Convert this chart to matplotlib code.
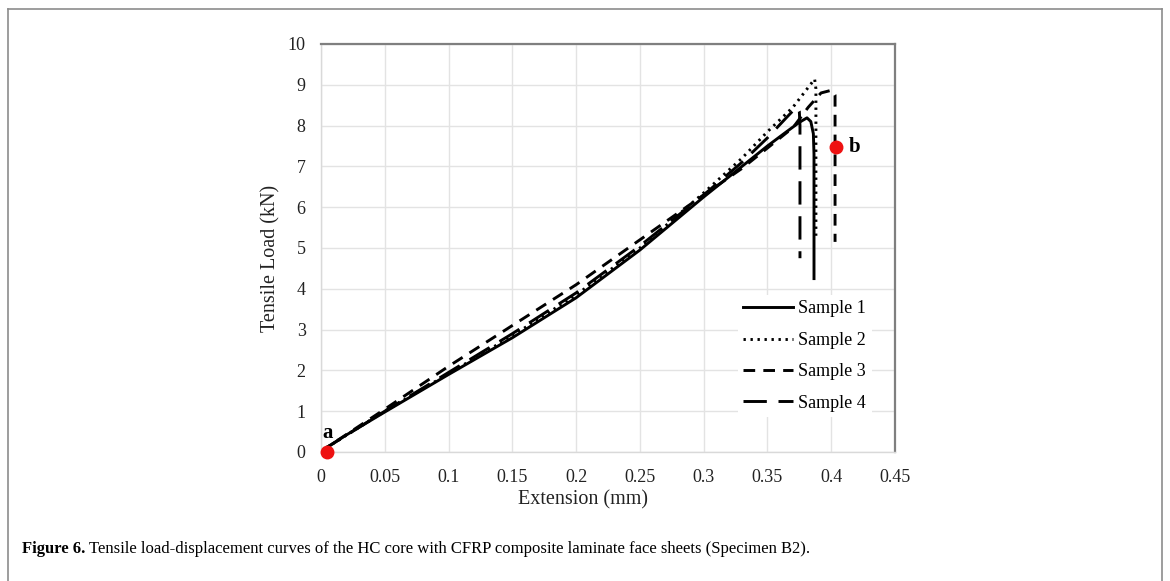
import matplotlib
matplotlib.use("Agg")
import matplotlib.pyplot as plt
from matplotlib.lines import Line2D

# ---------------- data ----------------
x1 = [0.0, 0.005, 0.02, 0.05, 0.10, 0.15, 0.20, 0.25, 0.30, 0.33, 0.35, 0.365, 0.375, 0.381, 0.384, 0.386, 0.3865, 0.3865]
y1 = [0.0, 0.12, 0.42, 0.98, 1.90, 2.80, 3.78, 4.95, 6.25, 7.00, 7.50, 7.85, 8.08, 8.19, 8.10, 7.80, 7.30, 4.25]

x2 = [0.0, 0.005, 0.05, 0.10, 0.15, 0.20, 0.25, 0.30, 0.33, 0.35, 0.37, 0.387, 0.388, 0.388]
y2 = [0.0, 0.12, 1.00, 1.92, 2.85, 3.85, 5.00, 6.35, 7.20, 7.85, 8.45, 9.14, 8.90, 5.30]

x3 = [0.0, 0.005, 0.05, 0.10, 0.15, 0.20, 0.25, 0.30, 0.33, 0.35, 0.37, 0.382, 0.392, 0.4006, 0.403, 0.403]
y3 = [0.0, 0.12, 1.05, 2.10, 3.10, 4.10, 5.20, 6.30, 6.95, 7.45, 7.95, 8.45, 8.80, 8.87, 8.75, 5.15]

x4 = [0.0, 0.005, 0.05, 0.10, 0.15, 0.20, 0.25, 0.30, 0.33, 0.35, 0.365, 0.373, 0.375, 0.3755, 0.3755]
y4 = [0.0, 0.12, 1.00, 1.95, 2.90, 3.90, 5.05, 6.30, 7.10, 7.70, 8.20, 8.46, 8.35, 8.00, 4.75]

labels = ["Sample 1", "Sample 2", "Sample 3", "Sample 4"]
xticks = [0, 0.05, 0.1, 0.15, 0.2, 0.25, 0.3, 0.35, 0.4, 0.45]
xticklabels = ["0", "0.05", "0.1", "0.15", "0.2", "0.25", "0.3", "0.35", "0.4", "0.45"]
yticks = list(range(0, 11))

point_a = (0.005, 0.0)
point_b = (0.404, 7.48)

# ---------------- figure ----------------
W, H = 1170, 581
fig = plt.figure(figsize=(W / 100, H / 100), dpi=100)
serif = ["Liberation Serif", "DejaVu Serif"]
plt.rcParams["font.family"] = serif

def fx(px):
    return px / W

def fy(py):
    return 1 - py / H

# outer border (left, top, right)
border = dict(color="#8c8c8c", lw=1.2, transform=fig.transFigure, clip_on=False)
fig.add_artist(Line2D([fx(8), fx(8)], [fy(9), 0], **border))
fig.add_artist(Line2D([fx(8), fx(1162)], [fy(9), fy(9)], **border))
fig.add_artist(Line2D([fx(1162), fx(1162)], [fy(9), 0], **border))

L, R, T, B = 321, 895, 44, 452
ax = fig.add_axes([fx(L), fy(B), (R - L) / W, (B - T) / H])
ax.set_xlim(0, 0.45)
ax.set_ylim(0, 10)
ax.set_xticks(xticks)
ax.set_xticklabels(xticklabels)
ax.set_yticks(yticks)
ax.tick_params(length=0, labelsize=13, colors="#222222")
ax.tick_params(axis="x", pad=12)
ax.tick_params(axis="y", pad=11)
ax.grid(True, color="#e3e3e3", lw=1.0)
ax.set_axisbelow(True)
for s in ["left", "bottom"]:
    ax.spines[s].set_color("#d9d9d9")
    ax.spines[s].set_linewidth(1.0)
for s in ["top", "right"]:
    ax.spines[s].set_color("#7f7f7f")
    ax.spines[s].set_linewidth(1.6)

lw = 2.1
ax.plot(x1, y1, color="black", lw=lw, ls="-", label=labels[0], solid_joinstyle="round")
ax.plot(x2, y2, color="black", lw=lw, ls=(0, (0.8, 1.6)), label=labels[1])
ax.plot(x3, y3, color="black", lw=lw, ls=(0, (4.0, 2.8)), label=labels[2])
ax.plot(x4, y4, color="black", lw=lw, ls=(0, (8.0, 4.0)), label=labels[3])

ax.plot([point_a[0]], [point_a[1]], "o", color="#ee1111", ms=9, clip_on=False, zorder=5)
ax.plot([point_b[0]], [point_b[1]], "o", color="#ee1111", ms=9, clip_on=False, zorder=5)
ax.text(point_a[0], point_a[1] + 0.47, "a", fontsize=15, fontweight="bold", ha="center", va="center")
ax.text(point_b[0] + 0.014, point_b[1], "b", fontsize=15, fontweight="bold", ha="center", va="center")

leg = ax.legend(loc="upper left", bbox_to_anchor=(fx(738), fy(295)), bbox_transform=fig.transFigure,
                frameon=True, fontsize=13, handlelength=2.75, handletextpad=0.3,
                labelspacing=0.8, borderpad=0.3, borderaxespad=0)
leg.get_frame().set_edgecolor("none")
leg.get_frame().set_facecolor("white")
leg.get_frame().set_alpha(1.0)

fig.text(fx(271), fy(258), "Tensile Load (kN)", rotation=90, ha="center", va="center", fontsize=14.5, color="#222222")
fig.text(fx(583), fy(500), "Extension (mm)", ha="center", va="center", fontsize=14.5, color="#222222")

# caption
fig.canvas.draw()
r = fig.canvas.get_renderer()
t1 = fig.text(fx(22), fy(553), "Figure 6.", fontsize=12, fontweight="bold", ha="left", va="baseline")
bb = t1.get_window_extent(renderer=r)
fig.text(bb.x1 / W + 4 / W, fy(553),
         "Tensile load-displacement curves of the HC core with CFRP composite laminate face sheets (Specimen B2).",
         fontsize=12, ha="left", va="baseline")

fig.savefig("out.png", dpi=100)
